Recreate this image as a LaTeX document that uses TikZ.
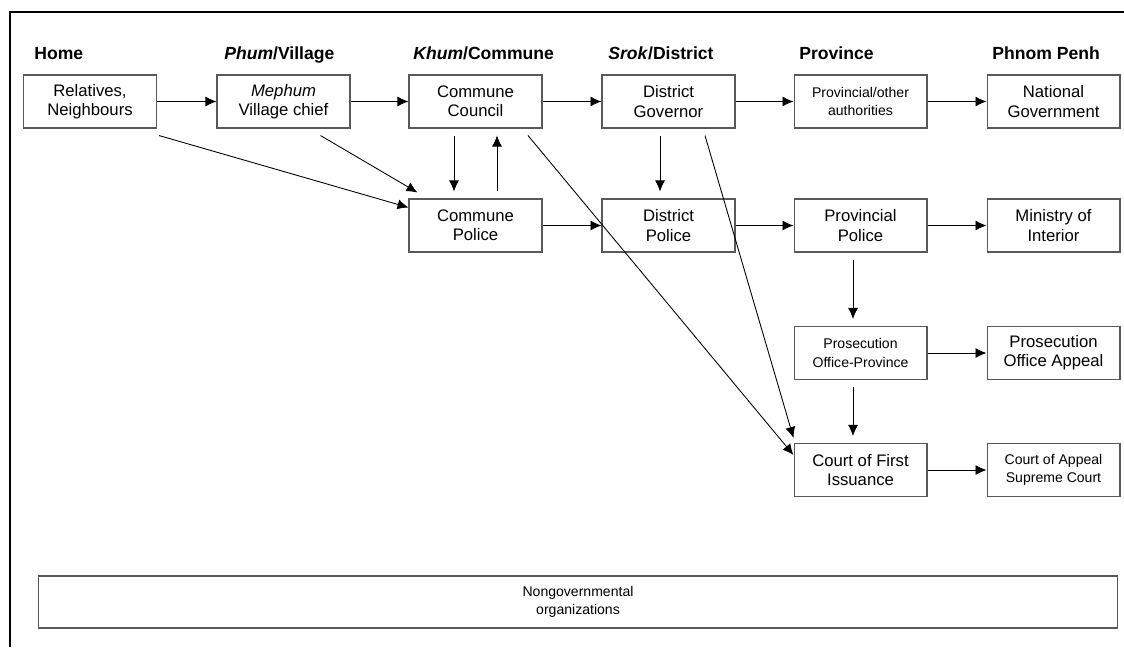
\documentclass[tikz,border=0pt]{standalone}
\usepackage{fontspec}
\setmainfont{Liberation Sans}
\usetikzlibrary{arrows.meta}

\begin{document}
\begin{tikzpicture}[x=0.02cm, y=-0.02cm,
    unit/.style = {shape=rectangle, draw=black!65, line width=0.6pt,
      align=center, minimum width=2.66cm, minimum height=1.06cm,
      inner sep=1pt, font=\fontsize{9.5}{11}\selectfont},
    unitsm/.style = {unit, font=\fontsize{8}{10.5}\selectfont},
    level/.style = {anchor=base west, inner sep=0pt,
      font=\fontsize{10}{12}\selectfont\bfseries},
    post/.style = {-{Latex[length=2.2mm,width=2mm]}, line width=0.5pt},
    postv/.style = {post, shorten <=1.4mm, shorten >=1.4mm}]

  \useasboundingbox (0,0) rectangle (1124,647);
  \draw[line width=1pt] (10,647) -- (10,12) -- (1124,12);

  % levels
  \node [level] (lhome) at (34,59) {Home};
  \node [level] (lphum) at (224,59) {\textit{Phum}/Village};
  \node [level] (lkhum) at (413,59) {\textit{Khum}/Commune};
  \node [level] (lsrok) at (608,59) {\textit{Srok}/District};
  \node [level] (lprov) at (799,59) {Province};
  \node [level] (lpp) at (992,59) {Phnom Penh};

  % first row
  \node [unit] (rel) at (90,101.5) {Relatives,\\Neighbours};
  \node [unit] (mep) at (283.5,101.5) {\textit{Mephum}\\Village chief};
  \node [unit] (cc) at (475.5,101.5) {Commune\\Council};
  \node [unit] (dg) at (668.5,101.5) {District\\Governor};
  \node [unitsm] (prov) at (860.5,101.5) {Provincial/other\\authorities};
  \node [unit] (nat) at (1053.5,101.5) {National\\Government};

  % police
  \node [unit] (cp) at (475.5,225.5) {Commune\\Police};
  \node [unit] (dp) at (668.5,225.5) {District\\Police};
  \node [unit] (pp) at (860.5,225.5) {Provincial\\Police};
  \node [unit] (moi) at (1053.5,225.5) {Ministry of\\Interior};

  % prosecution and courts
  \node [unitsm] (pop) at (860.5,353) {Prosecution\\Office-Province};
  \node [unit] (poa) at (1053.5,353) {Prosecution\\Office Appeal};
  \node [unit] (cfi) at (860.5,470) {Court of First\\Issuance};
  \node [unitsm] (coa) at (1053.5,470) {Court of Appeal\\Supreme Court};

  \node [unitsm, minimum width=21.6cm, minimum height=1.04cm] (ngo) at (578,602)
    {Nongovernmental\\organizations};

  % connections
  \draw [post] (rel) -- (mep);
  \draw [post] (mep) -- (cc);
  \draw [post] (cc) -- (dg);
  \draw [post] (dg) -- (prov);
  \draw [post] (prov) -- (nat);
  \draw [post] (cp) -- (dp);
  \draw [post] (dp) -- (pp);
  \draw [post] (pp) -- (moi);
  \draw [post] (pop) -- (poa);
  \draw [post] (cfi) -- (coa);

  \draw [postv] ([xshift=-0.43cm]cc.south) -- ([xshift=-0.43cm]cp.north);
  \draw [postv] ([xshift=0.43cm]cp.north) -- ([xshift=0.43cm]cc.south);
  \draw [postv] ([xshift=-0.17cm]dg.south) -- ([xshift=-0.17cm]dp.north);
  \draw [postv] ([xshift=-0.15cm]pp.south) -- ([xshift=-0.15cm]pop.north);
  \draw [postv] ([xshift=-0.15cm]pop.south) -- ([xshift=-0.15cm]cfi.north);

  \draw [post] ([shift={(0.04cm,-0.14cm)}]rel.south east) -- ([yshift=0.36cm]cp.west);
  \draw [post] ([shift={(0.74cm,-0.14cm)}]mep.south) -- ([shift={(0.18cm,0.12cm)}]cp.north west);
  \draw [post] ([shift={(1.05cm,-0.14cm)}]cc.south) -- ([yshift=0.3cm]cfi.west);
  \draw [post] ([shift={(0.73cm,-0.14cm)}]dg.south) -- ([yshift=0.1cm]cfi.north west);
\end{tikzpicture}
\end{document}
